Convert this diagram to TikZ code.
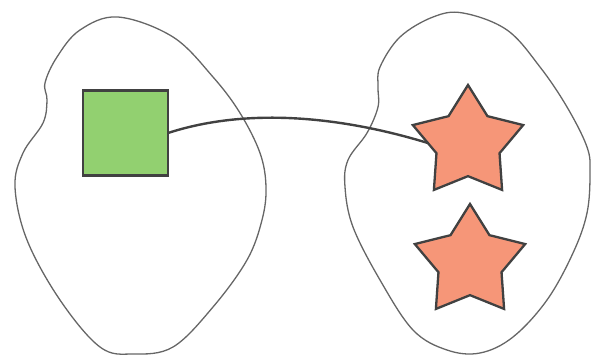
\documentclass[tikz,border=0pt]{standalone}
\usepackage{xcolor}
\usepackage{tikz}
\usetikzlibrary{shapes.geometric}

\definecolor{setgreen}{RGB}{146,208,112}
\definecolor{setsalmon}{RGB}{246,150,120}
\definecolor{edgegray}{RGB}{65,65,65}

\begin{document}
\begin{tikzpicture}[
    x=1pt, y=-1pt,
    blob/.style={draw=black!60, line width=1.3pt},
    elem/.style={rectangle, draw=edgegray, fill=setgreen, line width=2.6pt, minimum size=85pt, inner sep=0pt, outer sep=0pt},
    pt/.style={star, star points=5, star point ratio=1.75, draw=edgegray, fill=setsalmon, line width=2.3pt, minimum size=116pt, inner sep=0pt, outer sep=0pt},
    conn/.style={draw=edgegray, line width=2.4pt}
]
\useasboundingbox (0,0) rectangle (592,356);

% domain and codomain
\draw[blob] plot[smooth cycle, tension=0.6] coordinates {
    (118,17) (173,37) (213,77) (240,113) (260,153) (266,187) (262,220)
    (247,260) (213,307) (173,347) (133,354) (100,347) (60,300) (27,240)
    (15,187) (23,153) (43,123) (47,100) (45,83) (57,57) (80,30)};
\draw[blob] plot[smooth cycle, tension=0.6] coordinates {
    (463,13) (507,30) (540,67) (567,107) (587,147) (590,173) (587,213)
    (573,253) (547,300) (513,337) (480,353) (447,350) (413,330) (380,280)
    (353,227) (345,187) (348,160) (367,133) (378,107) (378,87) (380,67)
    (400,37) (433,17)};

\node[elem] (sq) at (125.5,133) {};
\node[pt] (topstar) at (468,143) {};
\node[pt] (lowstar) at (470,262) {};

\draw[conn] (sq.east) to[out=18, in=163, looseness=0.85] (topstar.west);

\end{tikzpicture}
\end{document}
